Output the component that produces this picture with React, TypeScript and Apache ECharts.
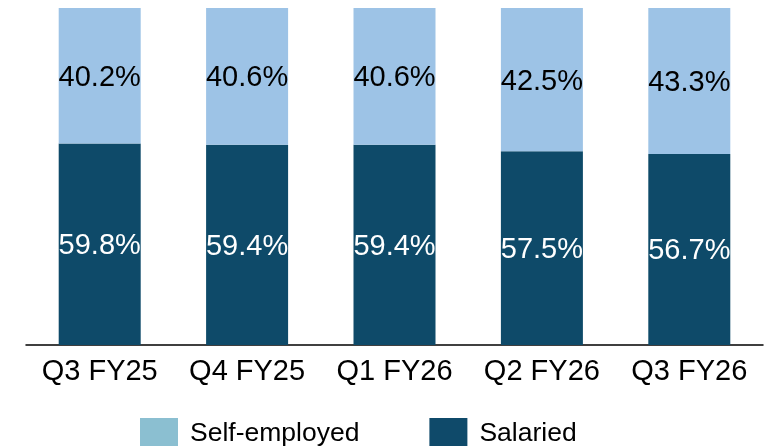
import React, { useEffect, useRef } from "react";
import * as echarts from "echarts";

const categories = ["Q3 FY25", "Q4 FY25", "Q1 FY26", "Q2 FY26", "Q3 FY26"];
const selfEmployed = [40.2, 40.6, 40.6, 42.5, 43.3];
const salaried = [59.8, 59.4, 59.4, 57.5, 56.7];

const FONT = "'Liberation Sans', Arial, sans-serif";

export default function App() {
  const ref = useRef<HTMLDivElement>(null);
  useEffect(() => {
    if (!ref.current) return;
    const chart = echarts.init(ref.current, null, { renderer: "svg" });
    chart.setOption({
      animation: false,
      textStyle: { fontFamily: FONT },
      grid: { left: 26, right: 8, top: 8, bottom: 103, containLabel: false },
      legend: {
        bottom: 2,
        left: 140,
        padding: 0,
        itemWidth: 38,
        itemHeight: 28,
        itemGap: 70,
        icon: "rect",
        textStyle: { fontSize: 26.5, color: "#000", fontFamily: FONT, padding: [0, 0, 0, 7] },
        data: [
          { name: "Self-employed", itemStyle: { color: "#8bbfd1" } },
          { name: "Salaried", itemStyle: { color: "#0f4a6a" } },
        ],
      },
      xAxis: {
        type: "category",
        data: categories,
        axisLine: { show: true, lineStyle: { color: "#000", width: 1.5 } },
        axisTick: { show: false },
        axisLabel: { fontSize: 29, color: "#000", margin: 10, interval: 0, fontFamily: FONT },
      },
      yAxis: {
        type: "value",
        min: 0,
        max: 100,
        show: false,
        splitLine: { show: false },
      },
      series: [
        {
          name: "Salaried",
          type: "bar",
          stack: "total",
          data: salaried,
          barWidth: 82,
          itemStyle: { color: "#0e4a69" },
          label: {
            show: true,
            position: "inside",
            formatter: (p: any) => p.value.toFixed(1) + "%",
            color: "#fff",
            fontSize: 29,
            fontFamily: FONT,
          },
        },
        {
          name: "Self-employed",
          type: "bar",
          stack: "total",
          data: selfEmployed,
          barWidth: 82,
          itemStyle: { color: "#9dc3e6" },
          label: {
            show: true,
            position: "inside",
            formatter: (p: any) => p.value.toFixed(1) + "%",
            color: "#000",
            fontSize: 29,
            fontFamily: FONT,
          },
        },
      ],
    });
    return () => chart.dispose();
  }, []);
  return (
    <div
      ref={ref}
      style={{ position: "fixed", left: 0, top: 0, width: 771, height: 448 }}
    />
  );
}
